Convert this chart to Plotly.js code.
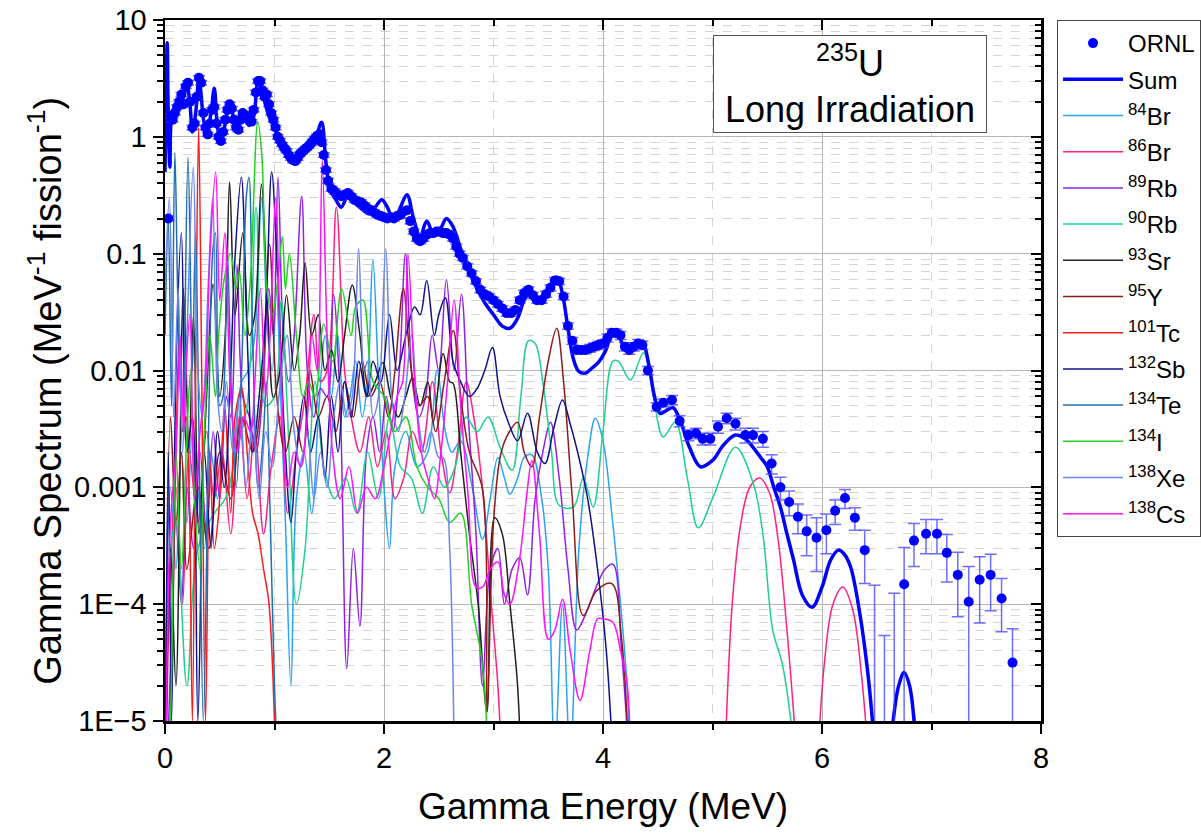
<!DOCTYPE html>
<html>
<head>
<meta charset="utf-8">
<script src="https://cdn.plot.ly/plotly-3.0.1.min.js"></script>
<style>html,body{margin:0;padding:0;background:#fff;}#chart{width:1201px;height:836px;}</style>
</head>
<body>
<div id="chart"></div>
<script>
// ---------------- DATA ----------------
const ornlE = [0.03,0.05,0.07,0.09,0.11,0.13,0.15,0.17,0.19,0.21,0.23,0.25,0.27,0.29,0.31,0.33,0.35,0.37,0.39,0.41,0.43,0.45,0.47,0.49,0.51,0.53,0.55,0.57,0.59,0.61,0.63,0.65,0.67,0.69,0.71,0.73,0.75,0.77,0.79,0.81,0.83,0.85,0.87,0.89,0.91,0.93,0.95,0.97,0.99,1.01,1.03,1.05,1.07,1.09,1.11,1.13,1.15,1.17,1.19,1.21,1.23,1.25,1.27,1.29,1.31,1.33,1.35,1.37,1.39,1.41,1.43,1.45,1.47,1.49,
1.52,1.55,1.58,1.61,1.64,1.67,1.70,1.73,1.76,1.79,1.82,1.85,1.88,1.91,1.94,1.97,2.00,2.03,2.06,2.09,2.12,2.15,2.18,2.21,2.24,2.27,2.30,2.33,2.36,2.39,2.42,2.45,2.48,2.51,2.54,2.57,2.60,2.63,2.66,2.69,2.72,
2.76,2.80,2.84,2.88,2.92,2.96,3.00,3.04,3.08,3.12,3.16,3.20,3.24,3.28,3.32,3.36,3.40,3.44,3.48,3.52,3.56,3.60,3.64,3.68,3.72,3.76,3.80,3.84,3.88,3.92,3.96,4.00,4.04,4.08,4.12,4.16,4.20,4.24,4.28,4.32,4.36,
4.41,4.49,4.55,4.63,4.70,4.78,4.85,4.91,4.98,5.05,5.13,5.21,5.30,5.37,5.46,5.54,5.62,5.70,5.78,5.86,5.95,6.04,6.12,6.21,6.30,6.39,6.48,6.57,6.66,6.75,6.84,6.95,7.05,7.14,7.24,7.34,7.44,7.54,7.64,7.74];
const ornlV = [0.2,1.5,1.4,1.6,1.8,2.0,2.3,1.9,2.7,2.9,2.0,1.2,1.3,2.2,3.2,2.9,1.6,1.2,1.05,1.3,1.7,1.8,1.3,1.0,0.92,1.1,1.4,1.7,1.9,1.75,1.4,1.2,1.15,1.4,1.6,1.45,1.5,1.4,1.35,1.7,2.4,3.0,3.0,2.5,2.2,2.3,1.9,1.6,1.4,1.2,1.0,0.93,0.86,0.8,0.76,0.7,0.66,0.63,0.62,0.66,0.71,0.74,0.77,0.8,0.83,0.87,0.92,0.97,1.02,1.05,0.9,0.7,0.52,0.42,
0.36,0.34,0.32,0.31,0.32,0.33,0.31,0.29,0.28,0.275,0.26,0.245,0.235,0.225,0.215,0.21,0.205,0.2,0.205,0.2,0.21,0.215,0.23,0.235,0.19,0.155,0.135,0.128,0.135,0.145,0.15,0.15,0.155,0.155,0.15,0.15,0.145,0.135,0.115,0.1,0.092,
0.078,0.068,0.058,0.049,0.045,0.043,0.04,0.037,0.034,0.031,0.031,0.033,0.04,0.046,0.049,0.044,0.04,0.04,0.045,0.051,0.059,0.058,0.043,0.024,0.018,0.015,0.015,0.015,0.0155,0.016,0.0165,0.017,0.019,0.021,0.021,0.02,0.016,0.015,0.016,0.017,0.0165,
0.010,0.0049,0.0053,0.0056,0.0037,0.0028,0.0029,0.0026,0.0026,0.0033,0.0039,0.0035,0.0028,0.0028,0.0026,0.0016,0.0010,0.00075,0.00056,0.00042,0.00037,0.00043,0.00063,0.00081,0.00055,0.00029,0.000002,0.000002,0.000002,0.000148,0.00035,0.0004,0.0004,0.000275,0.000178,0.000105,0.000162,0.000178,0.000112,0.0000316];
const ornlErr = [0.01,0.06,0.06,0.06,0.07,0.08,0.09,0.08,0.11,0.12,0.08,0.05,0.05,0.09,0.13,0.12,0.06,0.05,0.04,0.05,0.07,0.07,0.05,0.04,0.04,0.04,0.06,0.07,0.08,0.07,0.06,0.05,0.05,0.06,0.06,0.06,0.06,0.06,0.05,0.07,0.1,0.12,0.12,0.1,0.09,0.09,0.08,0.06,0.06,0.05,0.04,0.04,0.03,0.03,0.03,0.03,0.03,0.03,0.02,0.03,0.03,0.03,0.03,0.03,0.03,0.03,0.04,0.04,0.04,0.04,0.04,0.03,0.02,0.02,
0.018,0.017,0.016,0.016,0.016,0.017,0.016,0.015,0.014,0.014,0.013,0.012,0.012,0.011,0.011,0.011,0.01,0.01,0.01,0.01,0.011,0.011,0.012,0.012,0.01,0.008,0.007,0.0064,0.007,0.007,0.0075,0.0075,0.008,0.008,0.008,0.0075,0.007,0.0068,0.006,0.005,0.0046,
0.004,0.0035,0.003,0.0026,0.0024,0.0023,0.0022,0.002,0.0019,0.0018,0.0018,0.0019,0.0023,0.0027,0.0029,0.0026,0.0024,0.0024,0.0027,0.003,0.0035,0.0035,0.0026,0.0015,0.0012,0.0011,0.0011,0.0011,0.0012,0.0012,0.0013,0.0013,0.0015,0.0017,0.0017,0.0016,0.0013,0.0012,0.0013,0.0014,0.0014,
0.0008,0.0004,0.0004,0.0005,0.0004,0.0003,0.0003,0.0003,0.0003,0.0004,0.0004,0.0004,0.0004,0.0004,0.0004,0.0003,0.00022,0.00018,0.00016,0.00016,0.00018,0.00016,0.00015,0.00015,0.00012,0.00014,0.000143,0.000052,0.000122,0.000157,0.00014,0.00013,0.00013,0.00012,0.0001,0.000105,0.000093,0.00009,0.000054,0.00003];

const sumE = [0,0.01,0.02,0.03,0.045,0.06,0.08,0.1,0.12,0.14,0.17,0.2,0.23,0.25,0.28,0.31,0.33,0.36,0.39,0.42,0.45,0.48,0.51,0.55,0.59,0.63,0.66,0.7,0.73,0.77,0.81,0.85,0.88,0.91,0.95,1.0,1.05,1.1,1.14,1.18,1.22,1.26,1.3,1.34,1.38,1.43,1.47,1.51,1.56,1.61,1.68,1.74,1.8,1.86,1.92,1.98,2.03,2.09,2.15,2.21,2.27,2.33,2.39,2.45,2.51,2.57,2.63,2.7,2.78,2.85,2.92,3.0,3.08,3.15,3.22,3.28,3.33,3.38,3.43,3.5,3.58,3.63,3.68,3.73,3.78,3.84,3.9,3.96,4.02,4.09,4.15,4.21,4.27,4.33,4.37,4.42,4.47,4.52,4.57,4.64,4.71,4.79,4.89,5.0,5.1,5.21,5.3,5.37,5.44,5.5,5.56,5.62,5.68,5.74,5.82,5.91,6.0,6.08,6.15,6.2,6.26,6.35,6.42,6.47,6.52,6.56,6.6,6.66,6.7,6.75,6.8,6.85,6.9];
const sumV = [0.5,2,6.4,1.5,0.55,1.4,1.5,1.6,1.7,1.9,2.2,2.8,1.8,1.1,1.6,3.2,2.3,1.3,1.2,1.6,2.6,1.2,0.9,1.3,2.0,1.4,1.15,1.6,1.4,1.25,1.5,3.0,2.6,2.0,1.5,1.2,0.92,0.78,0.68,0.6,0.62,0.7,0.8,0.88,1.0,1.33,0.6,0.35,0.29,0.25,0.33,0.27,0.24,0.22,0.25,0.29,0.25,0.19,0.25,0.32,0.2,0.14,0.19,0.15,0.16,0.2,0.17,0.11,0.07,0.05,0.038,0.03,0.024,0.023,0.028,0.04,0.046,0.038,0.042,0.05,0.063,0.045,0.023,0.0125,0.0098,0.0095,0.0105,0.0118,0.0145,0.021,0.019,0.015,0.0155,0.0168,0.0165,0.011,0.006,0.0043,0.0045,0.0048,0.0036,0.0022,0.0015,0.0017,0.0023,0.0028,0.0026,0.0022,0.0018,0.0015,0.001,0.00068,0.0004,0.00024,0.00012,0.000094,0.00014,0.00024,0.00029,0.00027,0.00021,0.000078,0.000025,0.000008,0.000002,null,0.000003,0.000012,0.00002,0.000026,0.00002,0.000008,0.000002];

const br84E = [0,0.05,0.1,0.15,0.2,0.25,0.3,0.36,0.42,0.48,0.55,0.6,0.65,0.7,0.76,0.82,0.882,0.94,0.98,1.016,1.06,1.1,1.15,1.2,1.27,1.34,1.4,1.463,1.52,1.577,1.64,1.69,1.741,1.8,1.85,1.898,1.95,2.0,2.05,2.1,2.2,2.3,2.4,2.484,2.56,2.62,2.7,2.81,2.9,2.97,3.04,3.1,3.15,3.22,3.28,3.35,3.44,3.5,3.56,3.63,3.7,3.78,3.86,3.93,4.0,4.08,4.16,4.22,4.26];
const br84V = [1e-5,0.001,0.0002,0.002,0.0005,0.003,0.001,0.0003,0.002,0.0008,0.004,0.001,0.003,0.008,0.01,0.02,0.3,0.02,0.01,0.05,0.005,0.0005,2e-5,0.0008,0.002,0.0006,0.004,0.02,0.006,0.02,0.004,0.006,0.012,0.004,0.008,0.09,0.008,0.001,0.0003,0.0015,0.003,0.0015,0.002,0.01,0.003,0.002,0.0025,0.00095,0.00036,0.0008,0.0018,0.0012,0.00087,0.0012,0.0018,0.0019,0.0008,0.0002,5e-6,0.0001,5e-6,0.0003,0.0018,0.0039,0.0025,0.0006,0.0001,2e-5,2e-6];

const br86E = [0,0.05,0.1,0.16,0.22,0.3,0.38,0.45,0.52,0.6,0.68,0.75,0.82,0.9,0.97,1.05,1.12,1.2,1.28,1.36,1.42,1.48,1.565,1.64,1.7,1.78,1.86,1.94,2.02,2.1,2.18,2.26,2.34,2.442,2.52,2.6,2.67,2.751,2.82,2.9,2.98,3.04,3.09,4.0,5.1,5.18,5.26,5.34,5.43,5.52,5.6,5.68,5.74,5.8,5.9,5.95,6.02,6.1,6.19,6.28,6.36,6.44,6.55,6.6,6.66,6.7,6.75,6.8,6.85,6.9];
const br86V = [1e-6,0.0002,0.001,0.0001,0.002,0.0005,0.003,0.0008,0.002,0.0004,0.004,0.0008,0.003,0.0004,0.0015,0.004,0.0006,0.002,0.006,0.03,0.008,0.01,0.25,0.01,0.004,0.002,0.004,0.0015,0.003,0.0008,0.0012,0.003,0.002,0.008,0.002,0.0009,0.002,0.008,0.004,0.00096,0.0001,2e-5,2e-6,null,2e-6,0.0001,0.0005,0.001,0.0012,0.0009,0.00035,6e-5,1.2e-5,2e-6,null,3e-6,3e-5,0.0001,0.00014,9e-5,2.5e-5,3e-6,null,4e-6,1.3e-5,2e-5,2.6e-5,2e-5,1e-5,2e-6];

const rb89E = [0,0.05,0.1,0.15,0.2,0.26,0.32,0.38,0.44,0.5,0.56,0.6,0.657,0.71,0.77,0.83,0.89,0.948,0.99,1.032,1.08,1.13,1.18,1.248,1.3,1.36,1.42,1.48,1.538,1.6,1.66,1.72,1.78,1.84,1.9,1.96,2.02,2.08,2.14,2.196,2.26,2.32,2.38,2.44,2.5,2.57,2.64,2.707,2.77,2.84,2.9,2.97,3.04,3.1,3.17,3.24,3.31,3.38,3.45,3.52,3.6,3.68,3.76,3.85,3.95,4.02,4.09,4.17,4.26];
const rb89V = [1e-6,3e-5,0.0005,0.0001,0.001,0.0003,0.002,0.0004,0.003,0.0008,0.006,0.004,0.08,0.006,0.004,0.002,0.006,0.05,0.02,0.45,0.02,0.008,0.02,0.31,0.01,0.004,0.007,0.006,0.045,0.005,2.8e-5,0.0003,6.5e-5,0.002,0.004,0.002,0.006,0.003,0.01,0.1,0.008,0.004,0.006,0.02,0.01,0.06,0.01,0.045,0.004,0.0004,2e-5,0.0002,0.0003,0.0001,0.0002,0.00025,0.00012,0.0008,0.002,0.0036,0.0012,0.0002,6e-5,8.6e-5,0.00015,0.0002,0.00022,4e-5,2e-6];

const rb90E = [0,0.05,0.1,0.2,0.3,0.45,0.55,0.65,0.75,0.832,0.92,1.0,1.06,1.12,1.2,1.28,1.37,1.45,1.55,1.65,1.75,1.85,1.95,2.05,2.15,2.25,2.35,2.45,2.55,2.65,2.75,2.85,2.95,3.06,3.17,3.25,3.32,3.38,3.45,3.53,3.6,3.73,3.82,3.91,4.0,4.09,4.14,4.25,4.37,4.46,4.55,4.66,4.77,4.87,5.0,5.21,5.37,5.46,5.55,5.64,5.75,5.8];
const rb90V = [1e-5,0.0003,0.0005,2e-5,0.0003,0.0006,0.0008,0.002,0.005,0.25,0.005,0.006,0.04,0.004,0.0001,0.0003,0.008,0.0015,0.0008,0.0012,0.0006,0.002,0.0008,0.004,0.0015,0.0012,0.0006,0.0015,0.001,0.0015,0.004,0.003,0.004,0.0022,0.0014,0.006,0.018,0.017,0.008,0.002,0.0007,0.00068,0.0012,0.00068,0.003,0.012,0.012,0.0083,0.0142,0.006,0.0027,0.0036,0.0012,0.00045,0.0008,0.0022,0.0011,0.0004,6e-5,3e-5,5e-6,1e-6];

const sr93E = [0,0.05,0.1,0.168,0.22,0.26,0.31,0.37,0.44,0.5,0.55,0.59,0.64,0.71,0.77,0.82,0.88,0.94,0.99,1.05,1.11,1.18,1.23,1.28,1.34,1.4,1.46,1.52,1.58,1.64,1.71,1.78,1.85,1.92,1.99,2.06,2.13,2.2,2.26,2.33,2.4,2.45,2.54,2.6,2.63,2.7,2.78,2.86,2.94,3.01,3.08,3.15,3.22,3.26];
const sr93V = [1e-6,0.0003,2e-5,0.05,0.002,0.03,0.0004,0.004,0.055,0.006,0.02,0.41,0.03,0.15,0.02,0.03,0.39,0.03,0.0059,0.01,0.044,0.01,0.02,0.083,0.02,0.03,0.01,0.015,0.008,0.02,0.054,0.02,0.006,0.008,0.0117,0.006,0.004,0.006,0.0087,0.005,0.008,0.0036,0.014,0.008,0.0078,0.002,0.0004,0.0001,1.2e-5,0.00055,0.0004,0.0001,2e-5,2e-6];

const y95E = [0,0.05,0.1,0.15,0.2,0.3,0.4,0.5,0.6,0.7,0.8,0.88,0.954,1.02,1.1,1.18,1.26,1.324,1.4,1.48,1.56,1.64,1.72,1.8,1.88,1.96,2.04,2.1,2.176,2.25,2.32,2.4,2.47,2.55,2.633,2.7,2.78,2.9,2.94,3.0,3.06,3.12,3.22,3.28,3.35,3.42,3.5,3.577,3.64,3.72,3.82,3.94,4.08,4.17,4.25];
const y95V = [1e-6,0.004,0.0005,0.002,0.0002,0.001,0.0003,0.002,0.0008,0.004,0.002,0.006,0.12,0.006,0.002,0.004,0.002,0.01,0.004,0.006,0.003,0.008,0.004,0.012,0.006,0.008,0.004,0.01,0.05,0.01,0.005,0.006,0.003,0.008,0.022,0.006,0.002,0.00096,1.2e-5,0.0005,0.0018,0.0027,0.0036,0.002,0.0015,0.004,0.012,0.023,0.008,0.0008,8e-5,0.00013,0.00015,5e-5,2e-6];

const tc101E = [0,0.05,0.1,0.13,0.16,0.19,0.22,0.25,0.28,0.307,0.335,0.37,0.41,0.45,0.49,0.545,0.6,0.64,0.7,0.75,0.8,0.85,0.9,0.95,1.0,1.03];
const tc101V = [1e-6,1e-5,0.002,0.02,0.003,0.004,0.001,1e-5,0.01,1.2,0.01,1e-5,0.0017,0.0003,0.0006,0.005,0.0006,0.004,0.007,0.002,0.0006,0.0004,0.0002,0.0001,1e-5,1e-6];

const sb132E = [0,0.03,0.06,0.1,0.15,0.2,0.25,0.3,0.36,0.42,0.48,0.54,0.6,0.636,0.697,0.75,0.8,0.86,0.92,0.974,1.03,1.09,1.15,1.2,1.27,1.33,1.4,1.46,1.52,1.58,1.64,1.7,1.77,1.84,1.9,1.97,2.05,2.12,2.2,2.28,2.33,2.39,2.46,2.5,2.56,2.63,2.7,2.78,2.85,2.92,2.99,3.06,3.14,3.22,3.31,3.4,3.47,3.55,3.63,3.7,3.78,3.86,3.95,4.03,4.11];
const sb132V = [1e-6,0.002,1e-5,0.01,0.15,0.002,0.004,1e-5,0.002,0.0003,0.003,0.001,0.01,0.08,0.45,0.02,0.002,0.006,0.03,0.5,0.06,0.003,0.0005,0.002,0.006,0.002,0.004,0.0012,0.006,0.002,0.008,0.004,0.012,0.006,0.012,0.008,0.03,0.01,0.02,0.035,0.03,0.059,0.02,0.03,0.042,0.012,0.008,0.006,0.007,0.01,0.0157,0.006,0.0035,0.0025,0.0043,0.002,0.0016,0.0032,0.0056,0.0035,0.0018,0.0008,0.0002,4e-5,2e-6];

const te134E = [0,0.03,0.06,0.09,0.12,0.16,0.21,0.25,0.278,0.31,0.35,0.4,0.435,0.461,0.5,0.53,0.566,0.61,0.65,0.7,0.742,0.767,0.8,0.85,0.9,0.925,0.96,1.0,1.05];
const te134V = [0.02,0.2,0.005,0.73,0.03,0.003,0.67,0.01,0.15,0.003,1e-5,0.004,0.1,0.15,0.005,0.006,0.12,0.005,0.001,0.01,0.3,0.45,0.02,0.001,0.003,0.008,0.0006,2e-5,1e-6];

const i134E = [0,0.05,0.1,0.15,0.2,0.235,0.27,0.32,0.36,0.41,0.46,0.49,0.54,0.6,0.65,0.68,0.73,0.78,0.847,0.884,0.93,0.98,1.03,1.072,1.1,1.136,1.2,1.26,1.31,1.37,1.45,1.53,1.613,1.7,1.741,1.807,1.9,2.0,2.1,2.2,2.3,2.4,2.5,2.6,2.7,2.8,2.9,2.97];
const i134V = [1e-6,1e-5,0.002,0.0002,0.003,0.01,0.0008,0.0002,0.003,0.02,0.006,0.02,0.06,0.1,0.05,0.07,0.02,0.06,1.35,0.7,0.05,0.03,0.06,0.14,0.05,0.1,0.02,0.006,0.008,0.006,0.025,0.012,0.05,0.02,0.035,0.04,0.008,0.006,0.003,0.004,0.0015,0.001,0.0008,0.0005,0.0006,0.0001,3e-5,1e-6];

const xe138E = [0,0.04,0.08,0.12,0.16,0.2,0.258,0.3,0.34,0.397,0.435,0.48,0.52,0.56,0.62,0.68,0.74,0.8,0.86,0.92,0.98,1.04,1.114,1.18,1.24,1.3,1.36,1.42,1.48,1.54,1.6,1.66,1.71,1.768,1.82,1.85,1.9,1.95,2.016,2.07,2.13,2.19,2.252,2.31,2.37,2.43,2.5,2.54,2.6,2.65];
const xe138V = [0.05,0.3,0.004,0.05,0.002,0.02,0.55,0.01,0.004,0.06,0.3,0.006,0.003,0.008,0.002,0.006,0.001,0.004,0.0008,0.003,0.0015,0.006,0.02,0.003,0.0015,0.003,0.0008,0.002,0.001,0.004,0.008,0.004,0.006,0.11,0.01,0.012,0.004,0.006,0.11,0.006,0.003,0.006,0.02,0.004,0.002,0.003,0.0018,0.0018,0.0003,1e-6];

const cs138E = [0,0.05,0.1,0.138,0.17,0.192,0.227,0.27,0.32,0.37,0.409,0.463,0.5,0.547,0.6,0.66,0.72,0.78,0.82,0.871,0.92,0.96,1.01,1.06,1.12,1.18,1.24,1.3,1.343,1.39,1.436,1.48,1.53,1.6,1.68,1.76,1.84,1.92,2.0,2.06,2.12,2.17,2.218,2.28,2.34,2.4,2.46,2.52,2.58,2.64,2.7,2.77,2.84,2.9,2.97,3.04,3.1,3.15,3.24,3.3,3.35,3.42,3.5,3.56,3.63,3.7,3.79,3.88,3.95,4.0,4.09,4.16,4.22,4.26];
const cs138V = [1e-6,0.0005,0.002,0.02,0.003,0.01,0.03,0.0008,0.003,0.008,0.09,0.5,0.04,0.15,0.006,0.002,0.004,0.003,0.008,0.05,0.006,0.02,0.3,0.01,0.001,0.002,0.0015,0.004,0.02,0.01,0.63,0.02,0.002,0.0008,0.0015,0.0006,0.001,0.0008,0.0015,0.003,0.006,0.008,0.1,0.008,0.002,0.0012,0.0008,0.002,0.008,0.04,0.005,0.0008,0.00014,0.00014,0.0002,0.00023,0.00012,0.0001,0.00025,0.0008,0.0017,0.0004,5e-5,6e-5,0.00011,4e-5,1.5e-5,4e-5,7.5e-5,7.5e-5,7e-5,4e-5,2.1e-5,2e-6];

const isotopeNames = ['<sup>84</sup>Br','<sup>86</sup>Br','<sup>89</sup>Rb','<sup>90</sup>Rb','<sup>93</sup>Sr','<sup>95</sup>Y','<sup>101</sup>Tc','<sup>132</sup>Sb','<sup>134</sup>Te','<sup>134</sup>I','<sup>138</sup>Xe','<sup>138</sup>Cs'];
const yTickVals = [1e-5,1e-4,0.001,0.01,0.1,1,10];
const yTickText = ['1E\u22125','1E\u22124','0.001','0.01','0.1','1','10'];
const xTickVals = [0,2,4,6,8];

// ---------------- STYLE ----------------
const FONT = 'Liberation Sans, Arial, sans-serif';
const isoColors = ['#2AA3F2','#FF2080','#9020E8','#20D090','#202020','#8B1C1C','#FF1A1A','#10108F','#1F70B0','#22D022','#6A85F0','#FF10FF'];
const isoData = [[br84E,br84V],[br86E,br86V],[rb89E,rb89V],[rb90E,rb90V],[sr93E,sr93V],[y95E,y95V],[tc101E,tc101V],[sb132E,sb132V],[te134E,te134V],[i134E,i134V],[xe138E,xe138V],[cs138E,cs138V]];

const traces = [];
isoData.forEach((d, i) => {
  traces.push({
    x: d[0], y: d[1], type: 'scatter', mode: 'lines', name: isotopeNames[i],
    line: {color: isoColors[i], width: 1.5, shape: 'spline', smoothing: 1},
    connectgaps: false, legendrank: 3 + i, legendgroup: 'g' + i, hoverinfo: 'skip'
  });
});
traces.push({
  x: sumE, y: sumV, type: 'scatter', mode: 'lines', name: 'Sum',
  line: {color: '#0000FF', width: 3.5, shape: 'spline', smoothing: 1},
  connectgaps: false, legendrank: 2, legendgroup: 'sum'
});
traces.push({
  x: ornlE, y: ornlV, type: 'scatter', mode: 'markers', name: 'ORNL',
  marker: {color: '#0000FF', size: 10},
  error_y: {type: 'data', array: ornlErr, visible: true, color: 'rgba(60,60,255,0.75)', thickness: 1.5, width: 6},
  legendrank: 1, legendgroup: 'ornl'
});
// invisible trace to activate mirrored axes
traces.push({x: [], y: [], xaxis: 'x2', yaxis: 'y2', showlegend: false, type: 'scatter', mode: 'lines'});

const layout = {
  width: 1201, height: 836,
  margin: {l: 165, r: 160, t: 20, b: 115, autoexpand: false},
  paper_bgcolor: '#fff', plot_bgcolor: '#fff',
  font: {family: FONT, color: '#000'},
  showlegend: true,
  legend: {
    x: 1.0183, y: 1, xanchor: 'left', yanchor: 'top',
    bordercolor: '#444', borderwidth: 1, bgcolor: '#fff',
    font: {family: FONT, size: 24, color: '#000'},
    itemwidth: 60, traceorder: 'grouped', tracegroupgap: 2
  },
  xaxis: {
    type: 'linear', range: [0, 8], tickmode: 'array', tickvals: xTickVals,
    ticks: 'outside', ticklen: 10, tickwidth: 2, tickcolor: '#000',
    showline: true, linewidth: 2.5, linecolor: '#000', zeroline: false,
    showgrid: true, gridcolor: '#b4b4b4', gridwidth: 1,
    minor: {dtick: 1, ticks: 'outside', ticklen: 6, tickwidth: 2, tickcolor: '#000', showgrid: true, gridcolor: '#d4d4d4', griddash: 'dash', gridwidth: 1},
    tickfont: {family: FONT, size: 29, color: '#000'},
    title: {text: 'Gamma Energy (MeV)', font: {family: FONT, size: 37, color: '#000'}, standoff: 20}
  },
  yaxis: {
    type: 'log', range: [-5, 1], tickmode: 'array', tickvals: yTickVals, ticktext: yTickText,
    ticks: 'outside', ticklen: 10, tickwidth: 2, tickcolor: '#000',
    showline: true, linewidth: 2.5, linecolor: '#000', zeroline: false,
    showgrid: true, gridcolor: '#b4b4b4', gridwidth: 1,
    minor: {dtick: 'D1', ticks: 'outside', ticklen: 6, tickwidth: 2, tickcolor: '#000', showgrid: true, gridcolor: '#d4d4d4', griddash: 'dash', gridwidth: 1},
    tickfont: {family: FONT, size: 29, color: '#000'}
  },
  xaxis2: {
    overlaying: 'x', side: 'top', anchor: 'y', range: [0, 8], tickmode: 'array', tickvals: xTickVals,
    ticks: 'inside', ticklen: 10, tickwidth: 2, tickcolor: '#000', showticklabels: false,
    showline: true, linewidth: 2.5, linecolor: '#000', showgrid: false, zeroline: false,
    minor: {dtick: 1, ticks: 'inside', ticklen: 6, tickwidth: 2, tickcolor: '#000', showgrid: false}
  },
  yaxis2: {
    overlaying: 'y', side: 'right', anchor: 'x', type: 'log', range: [-5, 1], tickmode: 'array', tickvals: yTickVals,
    ticks: 'inside', ticklen: 10, tickwidth: 2, tickcolor: '#000', showticklabels: false,
    showline: true, linewidth: 2.5, linecolor: '#000', showgrid: false, zeroline: false,
    minor: {dtick: 'D1', ticks: 'inside', ticklen: 6, tickwidth: 2, tickcolor: '#000', showgrid: false}
  },
  annotations: [{
    xref: 'paper', yref: 'paper', x: 0.782, y: 0.9087, xanchor: 'center', yanchor: 'middle',
    text: '<sup>235</sup>U<br>Long Irradiation', showarrow: false, align: 'center',
    font: {family: FONT, size: 36, color: '#000'}, width: 268, height: 92,
    bordercolor: '#555', borderwidth: 1, bgcolor: '#fff', borderpad: 2
  }, {
    xref: 'paper', yref: 'paper', x: -0.137, y: 0.471, xanchor: 'center', yanchor: 'middle',
    text: 'Gamma Spectrum (MeV<sup>-1</sup> fission<sup>-1</sup>)', showarrow: false, textangle: -90,
    font: {family: FONT, size: 38, color: '#000'}
  }]
};

Plotly.newPlot('chart', traces, layout, {displayModeBar: false, staticPlot: true});
</script>
</body>
</html>
